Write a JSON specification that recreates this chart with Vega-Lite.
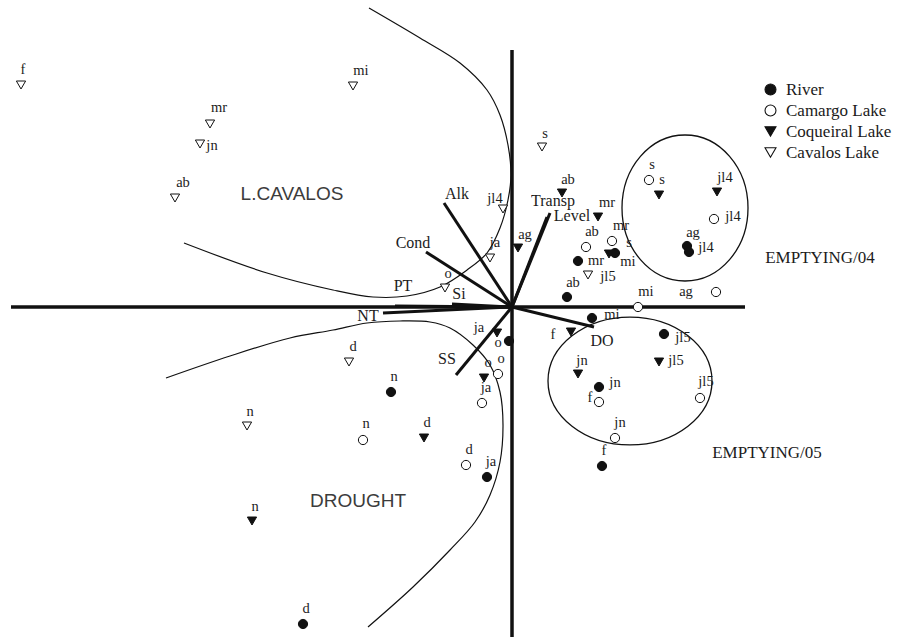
{
  "$schema": "https://vega.github.io/schema/vega-lite/v6.json",
  "width": 902,
  "height": 637,
  "padding": 0,
  "autosize": {"type": "none"},
  "background": "white",
  "config": {"view": {"stroke": null}, "text": {"opacity": 0.99}},
  "datasets": {
    "points": [
      {"series": "River", "label": "ag", "x": 1.75, "y": 0.61, "lx": 1.81, "ly": 0.74},
      {"series": "River", "label": "jl4", "x": 1.77, "y": 0.55, "lx": 1.94, "ly": 0.59},
      {"series": "River", "label": "mr", "x": 0.66, "y": 0.46, "lx": 0.84, "ly": 0.46},
      {"series": "River", "label": "s", "x": 1.03, "y": 0.54, "lx": 1.17, "ly": 0.64},
      {"series": "River", "label": "ab", "x": 0.55, "y": 0.10, "lx": 0.61, "ly": 0.24},
      {"series": "River", "label": "mi", "x": 0.80, "y": -0.11, "lx": 1.00, "ly": -0.08},
      {"series": "River", "label": "jl5", "x": 1.52, "y": -0.27, "lx": 1.71, "ly": -0.31},
      {"series": "River", "label": "jn", "x": 0.87, "y": -0.80, "lx": 1.03, "ly": -0.76},
      {"series": "River", "label": "f", "x": 0.90, "y": -1.59, "lx": 0.92, "ly": -1.44},
      {"series": "River", "label": "o", "x": -0.03, "y": -0.34, "lx": -0.14, "ly": -0.36},
      {"series": "River", "label": "ja", "x": -0.25, "y": -1.70, "lx": -0.21, "ly": -1.55},
      {"series": "River", "label": "n", "x": -1.21, "y": -0.85, "lx": -1.18, "ly": -0.70},
      {"series": "River", "label": "d", "x": -2.09, "y": -3.17, "lx": -2.06, "ly": -3.02},
      {"series": "Camargo Lake", "label": "s", "x": 1.37, "y": 1.27, "lx": 1.40, "ly": 1.42},
      {"series": "Camargo Lake", "label": "jl4", "x": 2.02, "y": 0.88, "lx": 2.21, "ly": 0.90},
      {"series": "Camargo Lake", "label": "ag", "x": 2.04, "y": 0.15, "lx": 1.74, "ly": 0.15},
      {"series": "Camargo Lake", "label": "ab", "x": 0.74, "y": 0.60, "lx": 0.80, "ly": 0.75},
      {"series": "Camargo Lake", "label": "mr", "x": 1.00, "y": 0.66, "lx": 1.09, "ly": 0.81},
      {"series": "Camargo Lake", "label": "mi", "x": 1.26, "y": 0.00, "lx": 1.34, "ly": 0.15},
      {"series": "Camargo Lake", "label": "f", "x": 0.87, "y": -0.95, "lx": 0.78, "ly": -0.91},
      {"series": "Camargo Lake", "label": "jn", "x": 1.03, "y": -1.31, "lx": 1.08, "ly": -1.16},
      {"series": "Camargo Lake", "label": "jl5", "x": 1.88, "y": -0.91, "lx": 1.94, "ly": -0.75},
      {"series": "Camargo Lake", "label": "o", "x": -0.14, "y": -0.67, "lx": -0.11, "ly": -0.52},
      {"series": "Camargo Lake", "label": "ja", "x": -0.30, "y": -0.96, "lx": -0.26, "ly": -0.81},
      {"series": "Camargo Lake", "label": "d", "x": -0.46, "y": -1.58, "lx": -0.43, "ly": -1.43},
      {"series": "Camargo Lake", "label": "n", "x": -1.49, "y": -1.33, "lx": -1.46, "ly": -1.17},
      {"series": "Coqueiral Lake", "label": "ab", "x": 0.50, "y": 1.14, "lx": 0.56, "ly": 1.27},
      {"series": "Coqueiral Lake", "label": "mr", "x": 0.86, "y": 0.90, "lx": 0.95, "ly": 1.04},
      {"series": "Coqueiral Lake", "label": "ag", "x": 0.06, "y": 0.59, "lx": 0.13, "ly": 0.72},
      {"series": "Coqueiral Lake", "label": "s", "x": 1.47, "y": 1.12, "lx": 1.50, "ly": 1.27},
      {"series": "Coqueiral Lake", "label": "jl4", "x": 2.05, "y": 1.15, "lx": 2.13, "ly": 1.29},
      {"series": "Coqueiral Lake", "label": "mi", "x": 0.97, "y": 0.53, "lx": 1.16, "ly": 0.45},
      {"series": "Coqueiral Lake", "label": "f", "x": 0.59, "y": -0.25, "lx": 0.41, "ly": -0.28},
      {"series": "Coqueiral Lake", "label": "jn", "x": 0.66, "y": -0.67, "lx": 0.70, "ly": -0.54},
      {"series": "Coqueiral Lake", "label": "jl5", "x": 1.47, "y": -0.55, "lx": 1.64, "ly": -0.54},
      {"series": "Coqueiral Lake", "label": "ja", "x": -0.15, "y": -0.26, "lx": -0.33, "ly": -0.21},
      {"series": "Coqueiral Lake", "label": "o", "x": -0.28, "y": -0.71, "lx": -0.24, "ly": -0.56},
      {"series": "Coqueiral Lake", "label": "d", "x": -0.88, "y": -1.31, "lx": -0.85, "ly": -1.16},
      {"series": "Coqueiral Lake", "label": "n", "x": -2.60, "y": -2.14, "lx": -2.57, "ly": -2.00},
      {"series": "Cavalos Lake", "label": "f", "x": -4.91, "y": 2.22, "lx": -4.89, "ly": 2.37},
      {"series": "Cavalos Lake", "label": "mi", "x": -1.59, "y": 2.21, "lx": -1.51, "ly": 2.36},
      {"series": "Cavalos Lake", "label": "mr", "x": -3.02, "y": 1.83, "lx": -2.93, "ly": 1.99},
      {"series": "Cavalos Lake", "label": "jn", "x": -3.12, "y": 1.63, "lx": -3.00, "ly": 1.61},
      {"series": "Cavalos Lake", "label": "ab", "x": -3.37, "y": 1.09, "lx": -3.29, "ly": 1.24},
      {"series": "Cavalos Lake", "label": "s", "x": 0.30, "y": 1.60, "lx": 0.33, "ly": 1.73},
      {"series": "Cavalos Lake", "label": "jl4", "x": -0.09, "y": 0.98, "lx": -0.17, "ly": 1.08},
      {"series": "Cavalos Lake", "label": "ja", "x": -0.22, "y": 0.49, "lx": -0.17, "ly": 0.64},
      {"series": "Cavalos Lake", "label": "o", "x": -0.67, "y": 0.19, "lx": -0.64, "ly": 0.33},
      {"series": "Cavalos Lake", "label": "jl5", "x": 0.76, "y": 0.32, "lx": 0.96, "ly": 0.30},
      {"series": "Cavalos Lake", "label": "d", "x": -1.63, "y": -0.55, "lx": -1.59, "ly": -0.40},
      {"series": "Cavalos Lake", "label": "n", "x": -2.65, "y": -1.19, "lx": -2.62, "ly": -1.05}
    ],
    "vectors": [
      {"var": "Alk", "x": -0.68, "y": 1.04, "lx": -0.55, "ly": 1.13},
      {"var": "Cond", "x": -0.86, "y": 0.55, "lx": -0.99, "ly": 0.64},
      {"var": "PT", "x": -1.17, "y": 0.01, "lx": -1.09, "ly": 0.21},
      {"var": "Si", "x": -0.60, "y": 0.03, "lx": -0.53, "ly": 0.13},
      {"var": "NT", "x": -1.29, "y": -0.06, "lx": -1.44, "ly": -0.09},
      {"var": "Transp", "x": 0.38, "y": 0.94, "lx": 0.41, "ly": 1.06},
      {"var": "Level", "x": 0.35, "y": 0.90, "lx": 0.60, "ly": 0.91},
      {"var": "DO", "x": 0.82, "y": -0.20, "lx": 0.90, "ly": -0.34},
      {"var": "SS", "x": -0.56, "y": -0.68, "lx": -0.65, "ly": -0.52}
    ],
    "axes": [
      {"axis": "PC1", "x": -5.01, "y": 0, "x2": 2.33, "y2": 0},
      {"axis": "PC2", "x": 0, "y": 2.57, "x2": 0, "y2": -3.30}
    ],
    "groups": [
      {"name": "L.CAVALOS", "boundary": "curve", "lx": -2.20, "ly": 1.13},
      {"name": "DROUGHT", "boundary": "curve", "lx": -1.54, "ly": -1.94},
      {"name": "EMPTYING/04", "boundary": "ellipse", "lx": 3.08, "ly": 0.49, "cx": 1.73, "cy": 0.99},
      {"name": "EMPTYING/05", "boundary": "ellipse", "lx": 2.55, "ly": -1.46, "cx": 1.18, "cy": -0.74}
    ],
    "curves": [
      {"group": "L.CAVALOS", "i": 1, "x": -1.43, "y": 2.99},
      {"group": "L.CAVALOS", "i": 2, "x": -0.92, "y": 2.69},
      {"group": "L.CAVALOS", "i": 3, "x": -0.52, "y": 2.44},
      {"group": "L.CAVALOS", "i": 4, "x": -0.25, "y": 2.17},
      {"group": "L.CAVALOS", "i": 5, "x": -0.12, "y": 1.92},
      {"group": "L.CAVALOS", "i": 6, "x": -0.04, "y": 1.62},
      {"group": "L.CAVALOS", "i": 7, "x": -0.01, "y": 1.32},
      {"group": "L.CAVALOS", "i": 8, "x": -0.04, "y": 1.07},
      {"group": "L.CAVALOS", "i": 9, "x": -0.12, "y": 0.79},
      {"group": "L.CAVALOS", "i": 10, "x": -0.25, "y": 0.54},
      {"group": "L.CAVALOS", "i": 11, "x": -0.45, "y": 0.37},
      {"group": "L.CAVALOS", "i": 12, "x": -0.72, "y": 0.20},
      {"group": "L.CAVALOS", "i": 13, "x": -1.05, "y": 0.11},
      {"group": "L.CAVALOS", "i": 14, "x": -1.39, "y": 0.10},
      {"group": "L.CAVALOS", "i": 15, "x": -1.79, "y": 0.17},
      {"group": "L.CAVALOS", "i": 16, "x": -2.45, "y": 0.34},
      {"group": "L.CAVALOS", "i": 17, "x": -3.28, "y": 0.64},
      {"group": "DROUGHT", "i": 1, "x": -3.46, "y": -0.71},
      {"group": "DROUGHT", "i": 2, "x": -2.82, "y": -0.49},
      {"group": "DROUGHT", "i": 3, "x": -2.22, "y": -0.31},
      {"group": "DROUGHT", "i": 4, "x": -1.79, "y": -0.23},
      {"group": "DROUGHT", "i": 5, "x": -1.45, "y": -0.16},
      {"group": "DROUGHT", "i": 6, "x": -1.12, "y": -0.14},
      {"group": "DROUGHT", "i": 7, "x": -0.82, "y": -0.15},
      {"group": "DROUGHT", "i": 8, "x": -0.62, "y": -0.21},
      {"group": "DROUGHT", "i": 9, "x": -0.39, "y": -0.38},
      {"group": "DROUGHT", "i": 10, "x": -0.22, "y": -0.58},
      {"group": "DROUGHT", "i": 11, "x": -0.12, "y": -0.85},
      {"group": "DROUGHT", "i": 12, "x": -0.09, "y": -1.18},
      {"group": "DROUGHT", "i": 13, "x": -0.12, "y": -1.55},
      {"group": "DROUGHT", "i": 14, "x": -0.22, "y": -1.88},
      {"group": "DROUGHT", "i": 15, "x": -0.37, "y": -2.15},
      {"group": "DROUGHT", "i": 16, "x": -0.62, "y": -2.43},
      {"group": "DROUGHT", "i": 17, "x": -0.99, "y": -2.80},
      {"group": "DROUGHT", "i": 18, "x": -1.44, "y": -3.20}
    ]
  },
  "layer": [
    {
      "data": {"name": "curves"},
      "mark": {"type": "line", "interpolate": "catmull-rom", "stroke": "#111", "strokeWidth": 1.2},
      "encoding": {
        "x": {"field": "x", "type": "quantitative", "scale": {"domain": [-5.12, 3.9], "nice": false, "zero": false}, "axis": null},
        "y": {"field": "y", "type": "quantitative", "scale": {"domain": [-3.3, 3.07], "nice": false, "zero": false}, "axis": null},
        "detail": {"field": "group", "type": "nominal"},
        "order": {"field": "i", "type": "quantitative"}
      }
    },
    {
      "data": {"name": "groups"},
      "transform": [{"filter": "datum.name === 'EMPTYING/04'"}],
      "mark": {"type": "point", "shape": "M0.863,0C0.863,0.552 0.477,1 0,1C-0.477,1 -0.863,0.552 -0.863,0C-0.863,-0.552 -0.477,-1 0,-1C0.477,-1 0.863,-0.552 0.863,0Z", "size": 21316, "filled": false, "stroke": "#111", "strokeWidth": 1.3, "opacity": 1},
      "encoding": {
        "x": {"field": "cx", "type": "quantitative", "scale": {"domain": [-5.12, 3.9], "nice": false, "zero": false}, "axis": null},
        "y": {"field": "cy", "type": "quantitative", "scale": {"domain": [-3.3, 3.07], "nice": false, "zero": false}, "axis": null}
      }
    },
    {
      "data": {"name": "groups"},
      "transform": [{"filter": "datum.name === 'EMPTYING/05'"}],
      "mark": {"type": "point", "shape": "M1,0C1,0.431 0.552,0.78 0,0.78C-0.552,0.78 -1,0.431 -1,0C-1,-0.431 -0.552,-0.78 0,-0.78C0.552,-0.78 1,-0.431 1,0Z", "size": 26896, "filled": false, "stroke": "#111", "strokeWidth": 1.3, "opacity": 1},
      "encoding": {
        "x": {"field": "cx", "type": "quantitative", "scale": {"domain": [-5.12, 3.9], "nice": false, "zero": false}, "axis": null},
        "y": {"field": "cy", "type": "quantitative", "scale": {"domain": [-3.3, 3.07], "nice": false, "zero": false}, "axis": null}
      }
    },
    {
      "data": {"name": "axes"},
      "mark": {"type": "rule", "stroke": "#111", "strokeWidth": 3.5},
      "encoding": {
        "x": {"field": "x", "type": "quantitative", "scale": {"domain": [-5.12, 3.9], "nice": false, "zero": false}, "axis": null},
        "y": {"field": "y", "type": "quantitative", "scale": {"domain": [-3.3, 3.07], "nice": false, "zero": false}, "axis": null},
        "x2": {"field": "x2"},
        "y2": {"field": "y2"}
      }
    },
    {
      "data": {"name": "vectors"},
      "mark": {"type": "rule", "stroke": "#111", "strokeWidth": 3},
      "encoding": {
        "x": {"field": "x", "type": "quantitative", "scale": {"domain": [-5.12, 3.9], "nice": false, "zero": false}, "axis": null},
        "y": {"field": "y", "type": "quantitative", "scale": {"domain": [-3.3, 3.07], "nice": false, "zero": false}, "axis": null},
        "x2": {"datum": 0},
        "y2": {"datum": 0}
      }
    },
    {
      "data": {"name": "vectors"},
      "mark": {"type": "text", "font": "Liberation Serif", "fontSize": 16, "color": "#1a1a1a", "align": "center", "baseline": "middle"},
      "encoding": {
        "x": {"field": "lx", "type": "quantitative", "scale": {"domain": [-5.12, 3.9], "nice": false, "zero": false}, "axis": null},
        "y": {"field": "ly", "type": "quantitative", "scale": {"domain": [-3.3, 3.07], "nice": false, "zero": false}, "axis": null},
        "text": {"field": "var", "type": "nominal"}
      }
    },
    {
      "data": {"name": "points"},
      "mark": {"type": "point", "filled": true, "strokeWidth": 1, "size": 85, "opacity": 1},
      "encoding": {
        "x": {"field": "x", "type": "quantitative", "scale": {"domain": [-5.12, 3.9], "nice": false, "zero": false}, "axis": null},
        "y": {"field": "y", "type": "quantitative", "scale": {"domain": [-3.3, 3.07], "nice": false, "zero": false}, "axis": null},
        "shape": {
          "field": "series", "type": "nominal",
          "scale": {"domain": ["River", "Camargo Lake", "Coqueiral Lake", "Cavalos Lake"], "range": ["circle", "circle", "triangle-down", "triangle-down"]},
          "legend": {"title": null, "orient": "none", "legendX": 762, "legendY": 81, "padding": 0, "labelFont": "Liberation Serif", "labelFontSize": 17, "labelColor": "#1a1a1a", "labelOffset": 7, "symbolSize": 120, "symbolStrokeWidth": 1.1, "symbolOpacity": 1, "rowPadding": 3}
        },
        "fill": {
          "field": "series", "type": "nominal",
          "scale": {"domain": ["River", "Camargo Lake", "Coqueiral Lake", "Cavalos Lake"], "range": ["#111", "white", "#111", "white"]},
          "legend": {"title": null, "orient": "none", "legendX": 762, "legendY": 81, "padding": 0, "labelFont": "Liberation Serif", "labelFontSize": 17, "labelColor": "#1a1a1a", "labelOffset": 7, "symbolSize": 120, "symbolStrokeWidth": 1.1, "symbolOpacity": 1, "rowPadding": 3}
        },
        "stroke": {
          "field": "series", "type": "nominal",
          "scale": {"domain": ["River", "Camargo Lake", "Coqueiral Lake", "Cavalos Lake"], "range": ["#111", "#111", "#111", "#111"]},
          "legend": {"title": null, "orient": "none", "legendX": 762, "legendY": 81, "padding": 0, "labelFont": "Liberation Serif", "labelFontSize": 17, "labelColor": "#1a1a1a", "labelOffset": 7, "symbolSize": 120, "symbolStrokeWidth": 1.1, "symbolOpacity": 1, "rowPadding": 3}
        }
      }
    },
    {
      "data": {"name": "points"},
      "mark": {"type": "text", "font": "Liberation Serif", "fontSize": 14.5, "color": "#1a1a1a", "align": "center", "baseline": "middle"},
      "encoding": {
        "x": {"field": "lx", "type": "quantitative", "scale": {"domain": [-5.12, 3.9], "nice": false, "zero": false}, "axis": null},
        "y": {"field": "ly", "type": "quantitative", "scale": {"domain": [-3.3, 3.07], "nice": false, "zero": false}, "axis": null},
        "text": {"field": "label", "type": "nominal"}
      }
    },
    {
      "data": {"name": "groups"},
      "transform": [{"filter": "datum.boundary === 'curve'"}],
      "mark": {"type": "text", "font": "Liberation Sans", "fontSize": 19, "color": "#3a3a3a", "align": "center", "baseline": "middle"},
      "encoding": {
        "x": {"field": "lx", "type": "quantitative", "scale": {"domain": [-5.12, 3.9], "nice": false, "zero": false}, "axis": null},
        "y": {"field": "ly", "type": "quantitative", "scale": {"domain": [-3.3, 3.07], "nice": false, "zero": false}, "axis": null},
        "text": {"field": "name", "type": "nominal"}
      }
    },
    {
      "data": {"name": "groups"},
      "transform": [{"filter": "datum.boundary === 'ellipse'"}],
      "mark": {"type": "text", "font": "Liberation Serif", "fontSize": 17, "color": "#1a1a1a", "align": "center", "baseline": "middle"},
      "encoding": {
        "x": {"field": "lx", "type": "quantitative", "scale": {"domain": [-5.12, 3.9], "nice": false, "zero": false}, "axis": null},
        "y": {"field": "ly", "type": "quantitative", "scale": {"domain": [-3.3, 3.07], "nice": false, "zero": false}, "axis": null},
        "text": {"field": "name", "type": "nominal"}
      }
    }
  ]
}
